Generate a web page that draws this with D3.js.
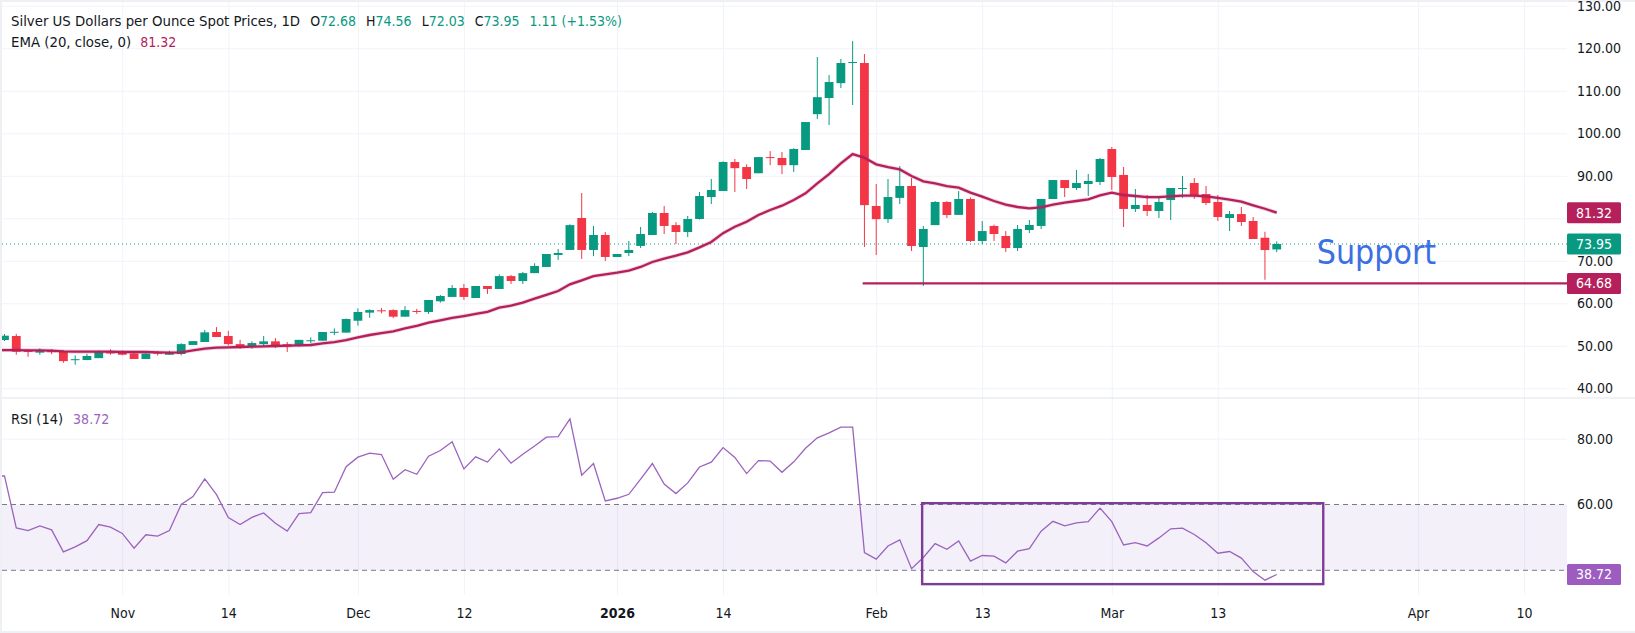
<!DOCTYPE html>
<html>
<head>
<meta charset="utf-8">
<script src="https://cdn.jsdelivr.net/npm/d3@7"></script>
<style>
html,body{margin:0;padding:0;background:#fff;overflow:hidden}
text{font-family:"DejaVu Sans Condensed","DejaVu Sans",sans-serif}
</style>
</head>
<body>
<svg id="chart" width="1635" height="633"></svg>
<script>
var opens = [51.36,52.3,48.8,48.4,48.9,48.7,46.7,46.66,47.1,48.5,
	48.6,48.2,46.9,48.5,47.9,48.07,50.2,50.9,53.25,52.3,
	50.4,49.8,50.4,51.05,50.35,49.95,51.1,51.2,53.2,53.1,
	55.9,57.8,58.35,58.4,56.85,58.2,57.96,60.47,61.5,63.6,
	61.25,64.07,63.37,66.4,65.25,67.1,68.55,71.37,72.55,80.07,
	72.55,76.07,70.9,71.84,73.5,76.07,81.25,78.4,76.78,79.84,
	85,86.43,93.24,92.06,90.6,94.4,94.2,92.5,96.07,104.5,
	108.3,111.8,116.54,116.54,82.9,79.8,84.8,87.6,73.24,78.4,
	83.83,80.8,84.54,74.66,78.2,75.84,73,77.25,78.2,84.54,
	89,87.13,88.07,88.54,96.3,90.2,82.2,83.13,81.72,84.3,
	86.9,88.3,85.7,83.84,80.07,81,79.37,75.43,72.68];
var highs = [52.77,52.8,49.2,49.4,49.25,49,47.75,48.1,48.9,49.2,
	48.9,48.6,48.5,48.8,48.85,50.6,51.1,53.7,54.4,53.5,
	51.4,51.05,52.3,51.8,50.9,51.4,52,53.25,54.1,56.4,
	58.8,58.6,58.9,58.6,59.35,58.7,60.78,61.95,64.3,64.55,
	64.07,64.07,66.8,66.66,67.37,69.4,71.6,72.78,78.6,85.96,
	78.2,76.78,71.6,74.66,77.96,81.5,82.9,79.1,80.55,86.2,
	89.25,93.4,93.95,92.7,94.4,95.8,95.6,96.5,102.65,117.95,
	113.7,117.5,121.7,118.65,88.06,89.24,92.3,89.5,78.2,84.06,
	84.06,86.4,84.93,79.37,78.5,77,78.43,79.6,84.54,89,
	89,91.37,90.43,94.2,96.78,92.07,86.9,85.48,85.1,87.13,
	89.95,89.48,87.6,85.48,81.72,82.66,80.3,76.84,74.56];
var lows = [51.13,47.9,47.4,47.9,48.05,46,45.55,46.6,47.1,47.9,
	47.75,46.9,46.9,47.7,47.9,47.75,50.2,50.9,52.07,50.1,
	49.3,49.3,49.95,49.5,48.55,49.8,50.6,51.2,52.5,53.1,
	54.75,56.6,57.65,56.5,56.85,57.5,57.5,60.15,61.5,60.8,
	61.25,62.2,63.37,64.55,64.55,67.1,68.55,70.2,72.55,70.43,
	71.1,69.96,70.9,71.1,73,76.07,76.3,73.96,75.6,79.7,
	83.37,86.43,86.2,86.9,90.6,92.5,90.4,90.9,96.07,103.36,
	101.95,110.65,106.65,73.24,71.36,78.9,83.36,72.3,64.06,78.4,
	80.06,80.8,74.42,73.95,74.66,72.07,72.3,76.54,77.48,84.54,
	85,86.66,85.25,87.84,86.66,77.95,81.48,80.54,80.07,79.6,
	84.8,84.54,83.13,79.37,77,78.2,75.13,65.55,72.03];
var closes = [52.38,48.6,48.6,48.9,48.5,46.4,46.85,47.6,48.6,48.2,
	47.9,46.9,48.15,48.15,48.5,50.4,51.1,53.17,52.07,50.4,
	49.55,50.65,51.05,49.95,49.8,51.4,51.3,53.25,53.3,56.3,
	57.95,58.4,58.2,56.85,58.4,58,60.78,61.72,63.6,61.5,
	64.07,63.37,66.4,65.25,67.1,68.78,71.6,71.84,78.4,72.55,
	76.07,70.9,71.6,72.55,76.3,81.25,78.2,76.78,79.84,85.25,
	86.66,93.25,91.8,89.24,94.4,94.26,92.5,96.3,102.65,108.5,
	112.06,116.54,116.77,83.1,79.8,85,87.6,73.48,77.48,83.83,
	80.77,84.54,74.66,77,76.3,73,77.48,78.43,84.54,89,
	87.13,88.3,88.78,93.95,89.72,82.2,83.13,81.72,83.84,87.13,
	87.13,85.48,83.6,80.3,81,79.13,75.13,72.53,73.95];
// first value of these two belongs to the session just left of the view
var ema20 = [49,49,49,48.93,48.93,48.85,48.7,48.62,48.62,48.62,48.62,
	48.54,48.54,48.54,48.46,48.38,48.46,48.93,49.32,49.56,49.64,
	49.72,49.79,49.87,49.95,50.03,50.11,50.19,50.58,50.89,51.36,
	51.99,52.54,53,53.4,54.1,54.7,55.45,56,56.55,57,
	57.5,58,59,59.45,60.15,61.1,62,62.9,64.47,65.4,
	66.4,66.8,67.2,67.7,68.55,69.72,70.5,71.2,72,73.17,
	74.43,76.5,78,79.2,80.77,81.95,82.97,84.3,85.87,88.2,
	90.4,92.93,95.1,94.26,92.7,92.06,91.5,89.95,88.7,88.2,
	87.55,87.2,86.03,85.09,84.07,83.2,82.66,82.35,82.58,83.2,
	83.68,84.07,84.46,85.4,86.03,85.48,85.25,85,85,85.17,
	85.33,85.33,85.17,84.78,84.39,83.9,83.05,82.25,81.32];
var rsi14 = [68.6,68.7,52.9,52.08,53.5,52.3,45.6,47.1,49,53.9,53.1,
	51.2,46.7,50.8,50.4,52.1,60,62.4,67.8,63,56,
	53.9,56.1,57.45,54.3,51.9,57.25,57.56,63.6,63.74,71.5,
	74.4,75.6,75.2,67.7,70.6,69.2,74.7,76.4,79.1,70.8,
	74.5,72.9,76.9,72.55,75.3,77.8,80.45,80.66,86,68.9,
	72.45,61.1,61.9,63.1,67.7,72.45,66.2,63.33,66.57,71.4,
	72.85,77.3,74.3,69.4,73.36,73.2,69.8,72.96,77.1,80.25,
	81.77,83.5,83.5,45.4,43.4,47.4,49.25,40.5,43.9,48.13,
	46.4,48.95,42.8,44.5,44.3,42.25,45.8,46.6,51.9,54.9,
	53.5,54.4,54.8,58.9,54.8,47.7,48.4,47.4,49.85,52.6,
	52.8,50.87,48.4,45.2,45.7,43.7,39.6,37,38.72];

var priceTicks = [130,120,110,100,90,80,70,60,50,40];
var priceLabels = [130,120,110,100,90,70,60,50,40]; // 80.00 sits under the EMA tag
var rsiTicks = [80,60];
var timeIdx = [10,19,30,39,52,61,74,83,94,103,120,129];
var timeLabels = ["Nov","14","Dec","12","2026","14","Feb","13","Mar","13","Apr","10"];

var UP = "#089981", DOWN = "#f23645", EMA = "#b5205c", RSI = "#9b63bd", BOX = "#7d3c98";
var FRAME = "#eef0f3";
var plotL = 2, plotR = 1567, priceBottom = 398, rsiBottom = 595;
var last = closes.length - 1;

var svg = d3.select("#chart");

var x = d3.scaleLinear().domain([0,129]).range([4.5,1524.1]);
var y = d3.scaleLinear().domain([60,120]).range([303.3,48.3]);
var yRsi = d3.scaleLinear().domain([40,80]).range([570.3,438.7]);

svg.append("rect").attr("width",1635).attr("height",633).attr("fill","#fff");

// grid, drawn with the axes
var gridX = d3.axisBottom(x).tickValues(timeIdx).tickSize(rsiBottom - 2).tickFormat("");
svg.append("g").attr("transform","translate(0,2)").call(gridX)
	.call(function(g){ g.select(".domain").remove(); g.selectAll("line").attr("stroke","#f0f3fa"); });

var gridY = d3.axisRight(y).tickValues(priceTicks).tickSize(plotR - plotL).tickFormat("");
svg.append("g").attr("transform","translate(" + plotL + ",0)").call(gridY)
	.call(function(g){ g.select(".domain").remove(); g.selectAll("line").attr("stroke","#f0f3fa"); });

var gridRsi = d3.axisRight(yRsi).tickValues([80]).tickSize(plotR - plotL).tickFormat("");
svg.append("g").attr("transform","translate(" + plotL + ",0)").call(gridRsi)
	.call(function(g){ g.select(".domain").remove(); g.selectAll("line").attr("stroke","#f0f3fa"); });

// pane separator
svg.append("line").attr("x1",0).attr("x2",1635).attr("y1",priceBottom).attr("y2",priceBottom)
	.attr("stroke","#e0e3eb").attr("stroke-width",1);

// last price dotted line
svg.append("line").attr("x1",plotL).attr("x2",plotR)
	.attr("y1",y(closes[last])).attr("y2",y(closes[last]))
	.attr("stroke",UP).attr("stroke-width",1).attr("stroke-dasharray","1 3");

// candles
var candles = svg.append("g").selectAll("g").data(opens).join("g");
candles.append("line")
	.attr("x1",function(d,i){ return x(i); }).attr("x2",function(d,i){ return x(i); })
	.attr("y1",function(d,i){ return y(highs[i]); }).attr("y2",function(d,i){ return y(lows[i]); })
	.attr("stroke",function(d,i){ return closes[i] >= d ? UP : DOWN; }).attr("stroke-width",1);
candles.append("rect")
	.attr("x",function(d,i){ return x(i) - 4.4; }).attr("width",8.8)
	.attr("y",function(d,i){ return y(Math.max(d,closes[i])); })
	.attr("height",function(d,i){ return Math.max(1, Math.abs(y(d) - y(closes[i]))); })
	.attr("fill",function(d,i){ return closes[i] >= d ? UP : DOWN; });

// EMA
var emaLine = d3.line().x(function(d,i){ return x(i - 1); }).y(function(d){ return y(d); });
svg.append("path").datum(ema20).attr("d",emaLine).attr("fill","none")
	.attr("stroke",EMA).attr("stroke-opacity",0.2).attr("stroke-width",4);
svg.append("path").datum(ema20).attr("d",emaLine).attr("fill","none")
	.attr("stroke",EMA).attr("stroke-width",2.3);

// support line
svg.append("line").attr("x1",x(72.85)).attr("x2",plotR).attr("y1",y(64.68)).attr("y2",y(64.68))
	.attr("stroke",EMA).attr("stroke-width",2.2);
svg.append("text").attr("x",x(111.4)).attr("y",y(69.3)).text("Support")
	.attr("fill","#3b6fe3").style("font-size","33.6px");

// RSI band and levels
svg.append("rect").attr("x",plotL).attr("width",plotR - plotL)
	.attr("y",yRsi(60)).attr("height",yRsi(40) - yRsi(60)).attr("fill","#7e57c2").attr("fill-opacity",0.09);
[60,40].forEach(function(v){
	svg.append("line").attr("x1",plotL).attr("x2",plotR).attr("y1",yRsi(v)).attr("y2",yRsi(v))
		.attr("stroke","#787b86").attr("stroke-width",1).attr("stroke-dasharray","5 4");
});
svg.append("path").datum(rsi14)
	.attr("d",d3.line().x(function(d,i){ return x(i - 1); }).y(function(d){ return yRsi(d); }))
	.attr("fill","none").attr("stroke",RSI).attr("stroke-width",1.3);

// rectangle annotation on the RSI pane
svg.append("rect").attr("x",x(77.9)).attr("width",x(111.95) - x(77.9))
	.attr("y",yRsi(60.4)).attr("height",yRsi(35.8) - yRsi(60.4))
	.attr("fill","none").attr("stroke",BOX).attr("stroke-width",2.4);

// frame strips on top of the series
svg.append("rect").attr("width",1635).attr("height",2).attr("fill",FRAME);
svg.append("rect").attr("y",631).attr("width",1635).attr("height",2).attr("fill",FRAME);
svg.append("rect").attr("width",plotL).attr("height",633).attr("fill",FRAME);

// axes
function styleAxis(g){
	g.select(".domain").remove();
	g.selectAll("line").remove();
	g.selectAll("text").attr("fill","#131722").style("font-size","14px");
}
var axisPrice = d3.axisRight(y).tickValues(priceLabels).tickSize(0).tickPadding(0).tickFormat(d3.format(".2f"));
svg.append("g").attr("transform","translate(1577,0)").call(axisPrice).call(styleAxis);
var axisRsi = d3.axisRight(yRsi).tickValues(rsiTicks).tickSize(0).tickPadding(0).tickFormat(d3.format(".2f"));
svg.append("g").attr("transform","translate(1577,0)").call(axisRsi).call(styleAxis);
var axisTime = d3.axisBottom(x).tickValues(timeIdx).tickSize(0).tickPadding(0)
	.tickFormat(function(d,i){ return timeLabels[i]; });
svg.append("g").attr("transform","translate(0,608)").call(axisTime).call(styleAxis)
	.selectAll("text").style("font-weight",function(d,i){ return timeLabels[i] == "2026" ? 700 : 400; });

// price tags
function tag(scale, v, col){
	var cy = scale(v);
	svg.append("rect").attr("x",plotR).attr("y",cy - 10.5).attr("width",54).attr("height",21).attr("rx",1.5).attr("fill",col);
	svg.append("text").attr("x",plotR + 27).attr("y",cy).attr("dy","0.35em").attr("text-anchor","middle")
		.attr("fill","#fff").style("font-size","14px").text(d3.format(".2f")(v));
}
tag(y, ema20[ema20.length - 1], EMA);
tag(y, closes[last], UP);
tag(y, 64.68, EMA);
tag(yRsi, rsi14[rsi14.length - 1], "#9c5cc0");

// legends: names run a little wider than the values
var title = svg.append("text").attr("x",11).attr("y",26).style("font-size","14px").attr("fill","#131722");
title.append("tspan").style("font-size","14.8px").text("Silver US Dollars per Ounce Spot Prices, 1D");
[["O",opens[last]],["H",highs[last]],["L",lows[last]],["C",closes[last]]].forEach(function(p,i){
	title.append("tspan").attr("dx", i == 0 ? 10 : 10).text(p[0]);
	title.append("tspan").attr("fill",UP).text(d3.format(".2f")(p[1]));
});
title.append("tspan").attr("dx",10).attr("fill",UP).text("1.11 (+1.53%)");

var legendEma = svg.append("text").attr("x",11).attr("y",47).style("font-size","14px").attr("fill","#131722");
legendEma.append("tspan").style("font-size","14.8px").text("EMA (20, close, 0)");
legendEma.append("tspan").attr("dx",9).attr("fill",EMA).text(d3.format(".2f")(ema20[ema20.length - 1]));

var legendRsi = svg.append("text").attr("x",11).attr("y",424).style("font-size","14px").attr("fill","#131722");
legendRsi.append("tspan").style("font-size","14.5px").text("RSI (14)");
legendRsi.append("tspan").attr("dx",10).attr("fill",RSI).text(d3.format(".2f")(rsi14[rsi14.length - 1]));
</script>
</body>
</html>
